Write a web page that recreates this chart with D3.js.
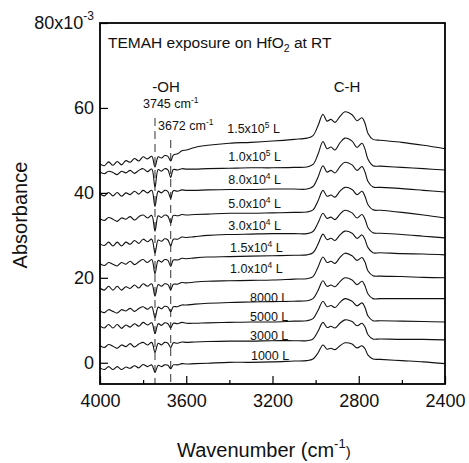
<!DOCTYPE html>
<meta charset="utf-8">
<head>
  <script src="https://cdnjs.cloudflare.com/ajax/libs/d3/7.8.5/d3.min.js"></script>
  <style>
    body { margin: 0; background: #fff; }
    text { font-family: Arial, "Liberation Sans", sans-serif; fill: #111; }
    .axis path { display: none; }
    .axis line { stroke: #000; stroke-width: 1.2; }
  </style>
</head>
<body>
<script>

// Wavenumber grid shared by every spectrum (cm-1)
var wn = [4000, 3980, 3960, 3940, 3920, 3900, 3880, 3860, 3840, 3820, 3800, 3780, 3760, 3745, 3730, 3715, 3700, 3685, 3672, 3660, 3640, 3620, 3600,
          3560, 3500, 3400, 3300, 3200, 3100, 3040,
          3012, 2989, 2966, 2947, 2929, 2910, 2887, 2864, 2831, 2808, 2785, 2771, 2757, 2734,
          2700, 2600, 2500, 2400];

// Absorbance (x10^-3), one array per exposure, top to bottom
var a150k = [46.8,46.4,47.3,46.5,47.4,46.6,47.6,47.2,48.1,47.5,48.5,48.0,48.6,46.1,48.5,48.2,48.8,48.6,47.5,48.9,49.2,49.9,50.1,
             50.7,51.2,51.7,51.9,52.2,52.6,52.9,
             53.5,55.8,58.5,56.9,57.3,56.6,58.0,59.1,58.4,57.0,57.7,56.4,54.0,52.6,
             52.4,51.9,51.2,50.4];
var a100k = [44.9,44.5,45.1,44.8,44.3,45.1,44.7,45.3,44.6,45.3,45.7,45.0,45.6,41.4,45.5,45.1,45.7,45.4,43.6,45.5,45.4,45.7,45.6,
             45.6,45.7,45.8,45.9,45.9,46.0,46.1,
             46.7,49.1,52.1,50.4,50.8,50.1,51.8,52.9,52.2,50.7,51.7,50.3,47.9,46.4,
             46.3,46.0,45.7,45.4];
var a80k = [39.8,39.3,40.1,39.3,40.1,39.2,40.0,39.6,40.4,39.7,40.6,40.0,40.6,36.8,40.4,40.0,40.6,40.3,38.7,40.5,40.4,40.7,40.6,
            40.6,40.7,40.8,40.8,40.9,40.9,40.9,
            41.5,43.7,46.4,44.9,45.3,44.7,46.2,47.2,46.6,45.3,46.2,44.9,42.7,41.4,
            41.3,41.0,40.6,40.2];
var a50k = [33.9,33.5,34.2,33.8,33.3,34.1,33.8,34.4,33.6,34.4,34.8,34.1,34.7,31.0,34.6,34.2,34.8,34.5,32.9,34.7,34.6,34.9,34.8,
            34.9,35.0,35.2,35.2,35.3,35.4,35.5,
            36.0,38.1,40.6,39.2,39.5,39.0,40.4,41.3,40.8,39.6,40.4,39.2,37.2,36.0,
            35.9,35.4,34.8,34.1];
var a30k = [28.0,27.6,28.4,27.5,28.4,27.5,28.4,27.9,28.8,28.1,29.1,28.5,29.1,25.8,28.9,28.6,29.2,28.9,27.5,29.1,29.1,29.6,29.5,
            29.7,30.0,30.2,30.3,30.4,30.4,30.4,
            30.9,32.9,35.2,34.0,34.3,33.7,35.0,35.9,35.3,34.1,34.9,33.8,31.8,30.6,
            30.5,30.2,29.8,29.4];
var a15k = [23.3,22.9,23.6,23.2,22.8,23.6,23.2,23.9,23.1,23.8,24.3,23.6,24.3,21.0,24.1,23.7,24.3,24.1,22.7,24.2,24.2,24.6,24.5,
            24.7,24.9,25.0,25.1,25.2,25.3,25.4,
            25.9,27.9,30.3,29.0,29.3,28.8,30.1,31.0,30.5,29.3,30.1,29.0,27.1,25.9,
            25.9,25.7,25.6,25.4];
var a10k = [17.6,17.1,18.0,17.1,18.0,17.1,17.9,17.5,18.3,17.6,18.6,18.0,18.6,15.7,18.4,18.0,18.6,18.4,17.2,18.5,18.5,18.9,18.8,
            19.0,19.2,19.3,19.4,19.5,19.7,19.8,
            20.3,22.5,24.9,23.6,23.9,23.4,24.8,25.8,25.2,24.1,24.8,23.7,21.6,20.5,
            20.4,20.3,20.1,20.0];
var a8000 = [12.2,11.8,12.5,12.1,11.7,12.5,12.2,12.8,12.1,12.8,13.2,12.6,13.2,10.6,13.1,12.7,13.3,13.1,12.0,13.2,13.2,13.6,13.6,
             13.8,14.0,14.2,14.3,14.4,14.5,14.6,
             15.1,17.0,19.3,18.0,18.3,17.9,19.1,20.0,19.5,18.4,19.2,18.1,16.2,15.1,
             15.1,15.1,15.1,15.1];
var a5000 = [8.7,8.2,9.0,8.2,9.0,8.1,8.9,8.4,9.2,8.6,9.5,8.9,9.4,6.9,9.2,8.8,9.4,9.2,8.2,9.3,9.2,9.5,9.3,
             9.3,9.4,9.5,9.6,9.6,9.8,9.9,
             10.4,12.3,14.5,13.2,13.5,13.0,14.2,15.1,14.5,13.4,14.1,13.0,11.0,9.9,
             9.9,9.8,9.7,9.6];
var a3000 = [4.0,3.6,4.3,3.9,3.4,4.2,3.8,4.5,3.7,4.4,4.8,4.2,4.8,2.5,4.6,4.2,4.8,4.6,3.6,4.7,4.6,4.9,4.8,
             4.9,5.0,5.1,5.1,5.2,5.2,5.2,
             5.6,7.4,9.5,8.3,8.6,8.2,9.3,10.1,9.7,8.7,9.3,8.4,6.6,5.6,
             5.6,5.5,5.5,5.4];
var a1000 = [-1.2,-1.6,-0.9,-1.6,-0.9,-1.6,-1.0,-1.3,-0.7,-1.2,-0.4,-0.9,-0.5,-2.2,-0.6,-0.9,-0.5,-0.6,-1.4,-0.5,-0.5,-0.2,-0.3,
             -0.2,-0.1,0.1,0.1,0.2,0.4,0.5,
             0.9,2.3,4.2,3.2,3.4,3.1,4.0,4.7,4.4,3.5,4.0,3.3,1.8,0.9,
             0.8,0.5,0.2,-0.2];

var spectra = [a150k, a100k, a80k, a50k, a30k, a15k, a10k, a8000, a5000, a3000, a1000];

// Exposure labels: mantissa and power of ten
var labelMain = ["1.5x10", "1.0x10", "8.0x10", "5.0x10", "3.0x10", "1.5x10", "1.0x10", "8000", "5000", "3000", "1000"];
var labelExp  = ["5", "5", "4", "4", "4", "4", "4", "", "", "", ""];

// OH peak positions marked by dashed lines
var ohPeaks = [3745, 3672];

var xMajor = [4000, 3600, 3200, 2800, 2400];
var xMinor = [3800, 3400, 3000, 2600];
var yTicks = [0, 20, 40, 60, 80];

// Plot box (note: "top" is reserved on window, so keep it in an object)
var W = 469, H = 463;
var box = {left: 100, right: 445, top: 23, bottom: 384};

var x = d3.scaleLinear().domain([4000, 2400]).range([box.left, box.right]);
var y = d3.scaleLinear().domain([-5, 80]).range([box.bottom, box.top]);

var svg = d3.select("body").append("svg")
  .attr("width", W).attr("height", H);

// Dashed guides for the -OH peaks
svg.selectAll("line.oh")
  .data(ohPeaks)
  .enter().append("line")
  .attr("class", "oh")
  .attr("x1", d => x(d)).attr("x2", d => x(d))
  .attr("y1", (d, i) => i == 0 ? 118 : 140)
  .attr("y2", box.bottom)
  .attr("stroke", "#333").attr("stroke-width", 1)
  .attr("stroke-dasharray", "8,5");

// Spectra
var line = d3.line()
  .x((d, i) => x(wn[i]))
  .y(d => y(d))
  .curve(d3.curveCatmullRom.alpha(0.5));

svg.selectAll("path.spec")
  .data(spectra)
  .enter().append("path")
  .attr("class", "spec")
  .attr("d", line)
  .attr("fill", "none")
  .attr("stroke", "#111")
  .attr("stroke-width", 1.1);

// Exposure labels (wavenumber, absorbance of the baseline)
var labelAt = [[3410, 54.2], [3405, 47.6], [3405, 42.1], [3405, 36.4], [3405, 31.3], [3397, 26.1], [3397, 21.2],
               [3304, 14.4], [3304, 9.9], [3304, 5.4], [3300, 0.6]];

var labs = svg.selectAll("text.lab")
  .data(labelMain)
  .enter().append("text")
  .attr("class", "lab")
  .attr("x", (d, i) => x(labelAt[i][0]))
  .attr("y", (d, i) => y(labelAt[i][1]))
  .attr("font-size", 12.5);
labs.append("tspan").text(d => d);
labs.append("tspan")
  .attr("font-size", 8.5).attr("dy", (d, i) => labelExp[i] ? -5 : 0)
  .text((d, i) => labelExp[i]);
labs.append("tspan")
  .attr("dy", (d, i) => labelExp[i] ? 5 : 0)
  .text(" L");

// Axes, ticks inward
var gx = svg.append("g").attr("class", "axis")
  .attr("transform", "translate(0," + box.bottom + ")")
  .call(d3.axisBottom(x).tickValues(xMajor).tickSizeInner(-8).tickSizeOuter(0).tickPadding(10).tickFormat(d3.format("d")));
gx.selectAll("text").attr("font-size", 18).attr("font-family", null);

svg.append("g").attr("class", "axis")
  .attr("transform", "translate(0," + box.bottom + ")")
  .call(d3.axisBottom(x).tickValues(xMinor).tickSizeInner(-4).tickSizeOuter(0).tickFormat(""));

var gy = svg.append("g").attr("class", "axis")
  .attr("transform", "translate(" + box.left + ",0)")
  .call(d3.axisLeft(y).tickValues(yTicks).tickSizeInner(-8).tickSizeOuter(0).tickPadding(6));
gy.selectAll("text").attr("font-size", 18).attr("font-family", null);

// top label carries the scale factor
gy.selectAll(".tick").filter(d => d == 80).select("text")
  .text("80x10")
  .append("tspan").attr("font-size", 12).attr("dy", -9).text("-3");

// Frame
svg.append("rect")
  .attr("x", box.left).attr("y", box.top)
  .attr("width", box.right - box.left).attr("height", box.bottom - box.top)
  .attr("fill", "none").attr("stroke", "#000").attr("stroke-width", 1.8);

// Title inside the box
var title = svg.append("text").attr("x", 108).attr("y", 48).attr("font-size", 15.5);
title.append("tspan").text("TEMAH exposure on HfO");
title.append("tspan").attr("font-size", 10.5).attr("dy", 4).text("2");
title.append("tspan").attr("dy", -4).text(" at RT");

// Band annotations
svg.append("text").attr("x", 166).attr("y", 92).attr("font-size", 15)
  .attr("text-anchor", "middle").text("-OH");
svg.append("text").attr("x", 347).attr("y", 92).attr("font-size", 15)
  .attr("text-anchor", "middle").text("C-H");

var oh1 = svg.append("text").attr("x", 143).attr("y", 108).attr("font-size", 12.5);
oh1.append("tspan").text("3745 cm");
oh1.append("tspan").attr("font-size", 8.5).attr("dy", -5).text("-1");
var oh2 = svg.append("text").attr("x", 158).attr("y", 130).attr("font-size", 12.5);
oh2.append("tspan").text("3672 cm");
oh2.append("tspan").attr("font-size", 8.5).attr("dy", -5).text("-1");

// Axis titles
var xt = svg.append("text").attr("x", 177).attr("y", 457).attr("font-size", 20);
xt.append("tspan").text("Wavenumber (cm");
xt.append("tspan").attr("font-size", 13).attr("dy", -9).text("-1");
xt.append("tspan").attr("font-size", 15).attr("dy", 9).text(")");

svg.append("text")
  .attr("transform", "translate(27,215) rotate(-90)")
  .attr("text-anchor", "middle").attr("font-size", 20)
  .text("Absorbance");

</script>
</body>
